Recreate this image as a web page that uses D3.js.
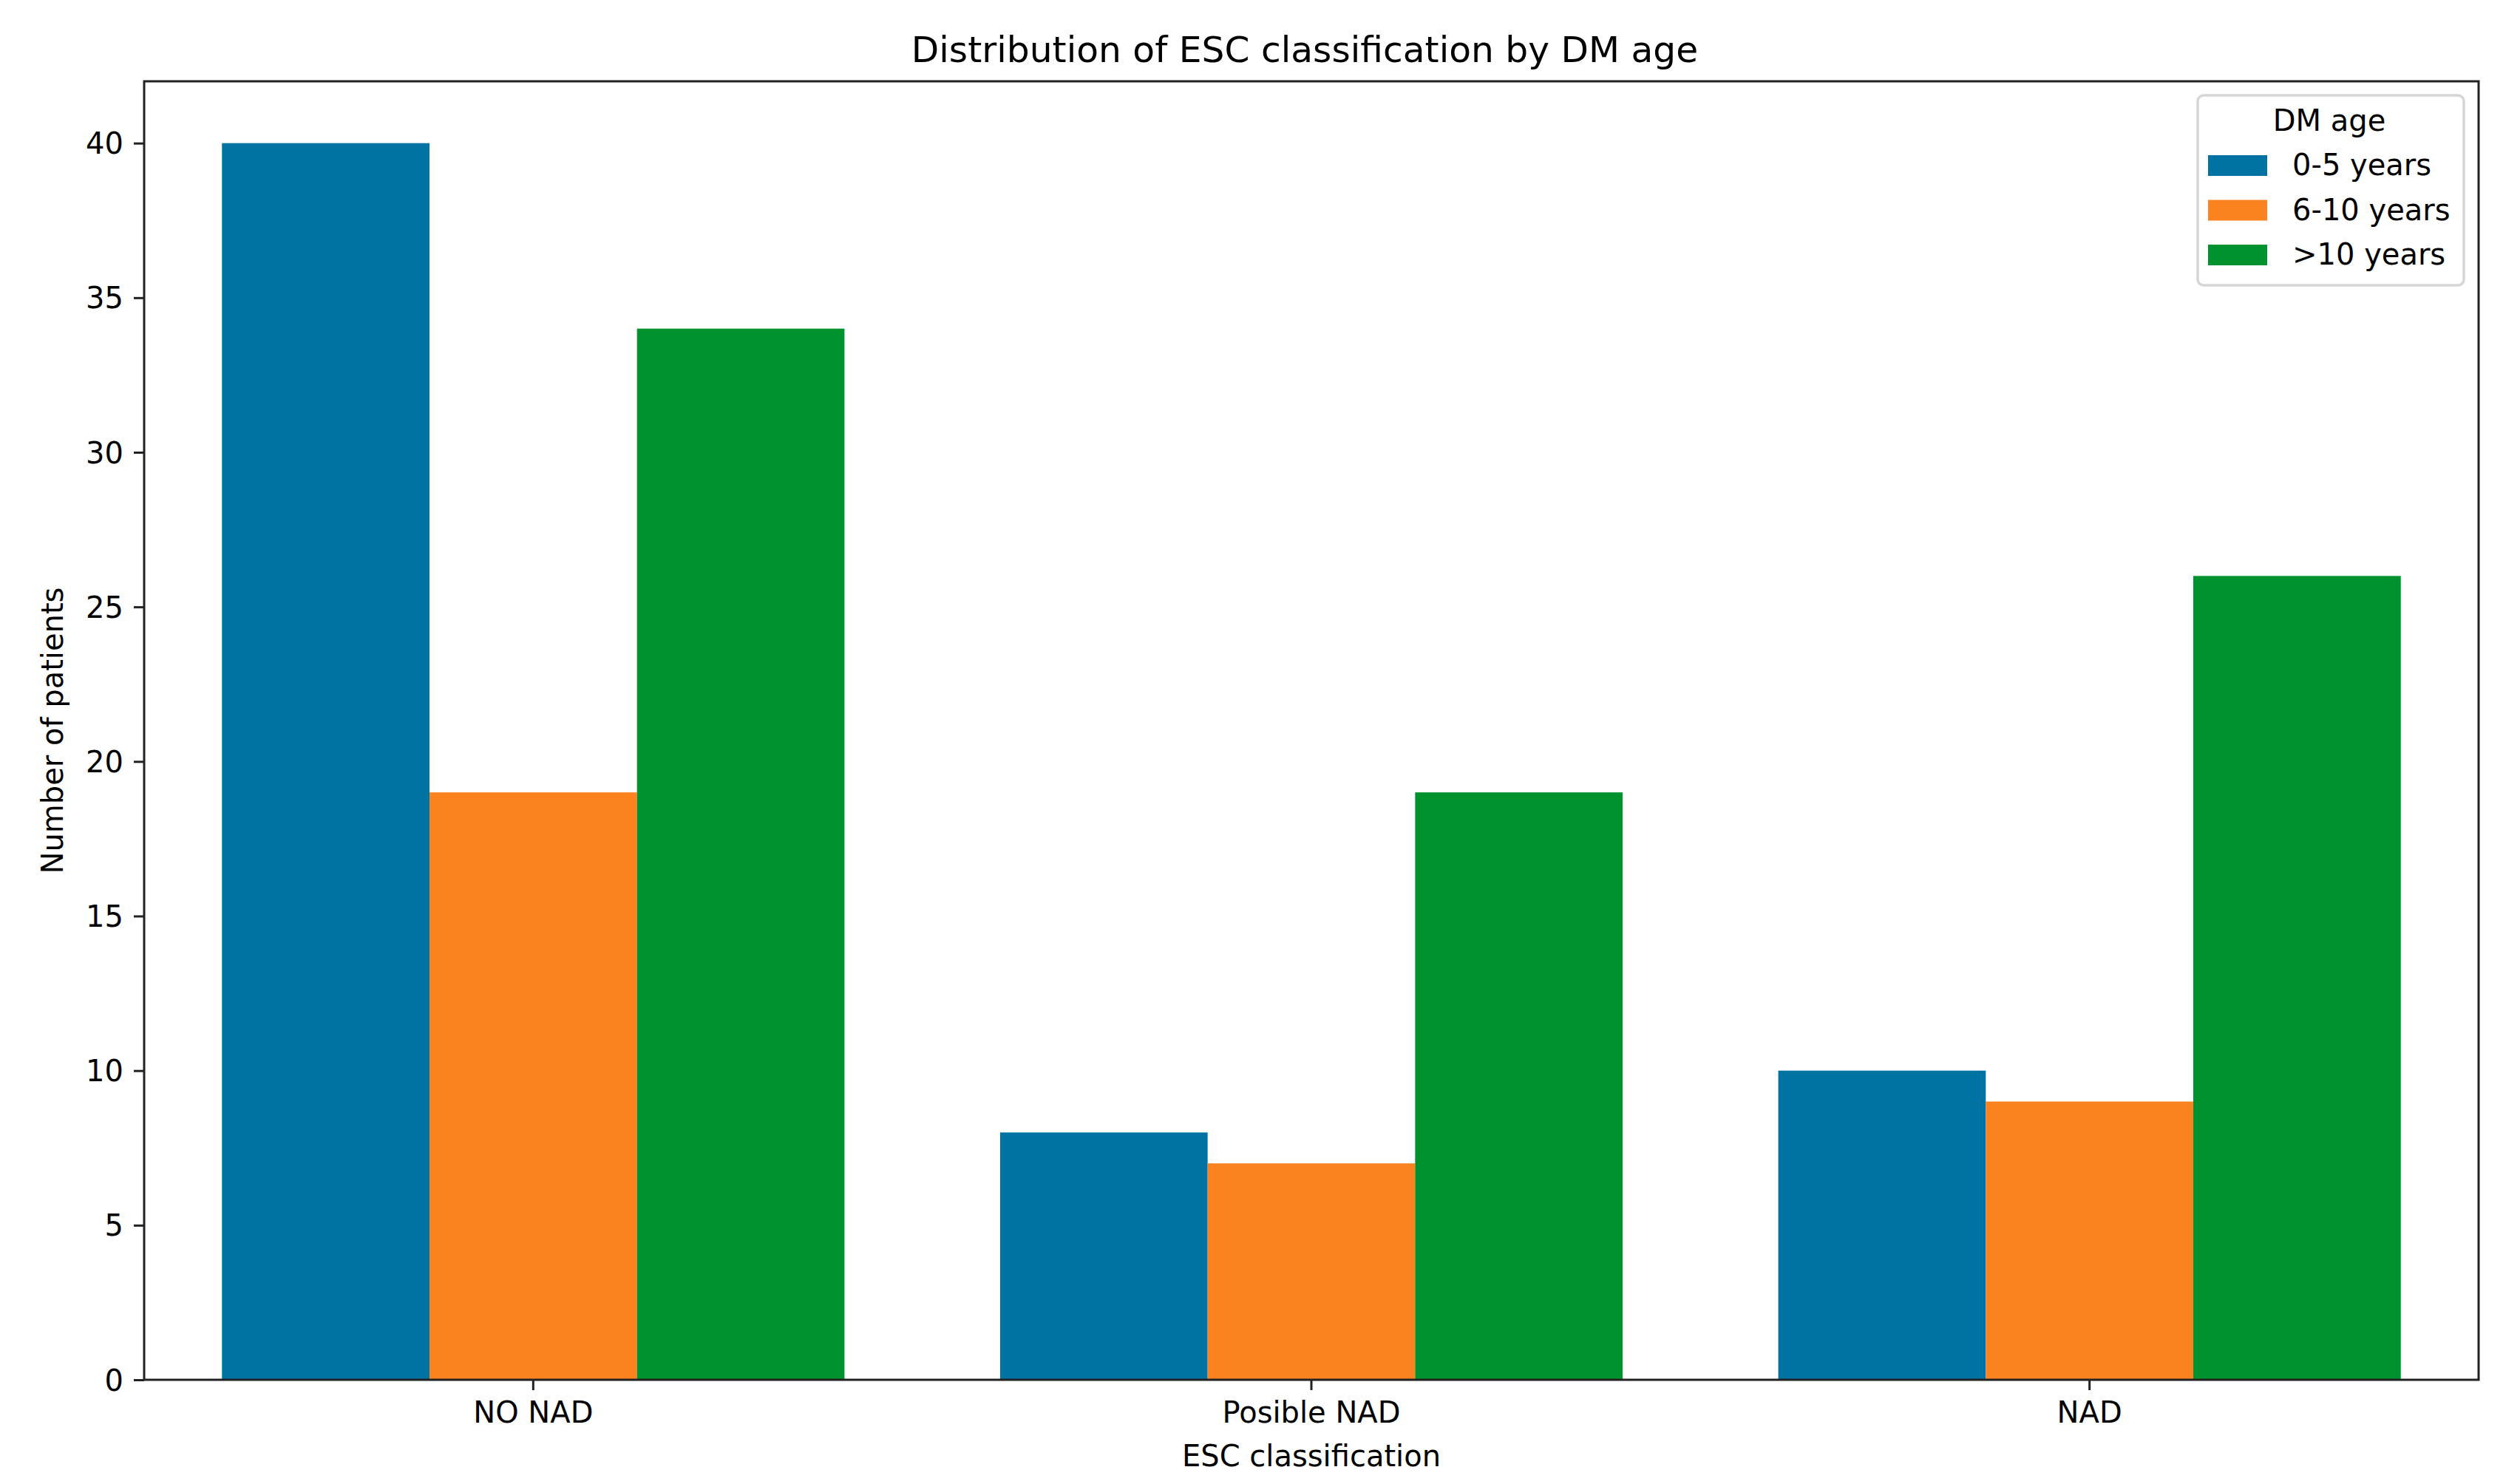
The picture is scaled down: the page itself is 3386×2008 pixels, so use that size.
<!DOCTYPE html>
<html>
<head>
<meta charset="utf-8">
<script src="https://cdn.jsdelivr.net/npm/d3@7"></script>
<style>
  body { margin: 0; background: #fff; }
  text { font-family: "DejaVu Sans", sans-serif; fill: #000; }
</style>
</head>
<body>
<div id="chart"></div>
<script>
// Data
const categories = ["NO NAD", "Posible NAD", "NAD"];
const series = ["0-5 years", "6-10 years", ">10 years"];
const values0to5 = [40, 8, 10];
const values6to10 = [19, 7, 9];
const valuesOver10 = [34, 19, 26];
const seriesColors = ["#0073a3", "#fa8320", "#00922f"];
const yTicks = [0, 5, 10, 15, 20, 25, 30, 35, 40];

const title = "Distribution of ESC classification by DM age";
const xLabel = "ESC classification";
const yLabel = "Number of patients";
const legendTitle = "DM age";

const seriesValues = [values0to5, values6to10, valuesOver10];

// Canvas and plot area
const width = 3386, height = 2008;
const plot = { left: 195, right: 3353, top: 110, bottom: 1867 };
const fontSize = 40;

const svg = d3.select("#chart")
  .append("svg")
  .attr("width", width)
  .attr("height", height)
  .style("display", "block");

svg.append("rect")
  .attr("width", width)
  .attr("height", height)
  .attr("fill", "#fff");

// Scales
const x0 = d3.scaleBand()
  .domain(categories)
  .range([plot.left, plot.right])
  .paddingInner(0.2)
  .paddingOuter(0.1);

const x1 = d3.scaleBand()
  .domain(series)
  .range([0, x0.bandwidth()])
  .padding(0);

const y = d3.scaleLinear()
  .domain([0, 42])
  .range([plot.bottom, plot.top]);

// Bars
const rows = categories.map((c, i) => ({
  category: c,
  values: series.map((s, j) => ({ series: s, value: seriesValues[j][i], color: seriesColors[j] })),
}));

const groups = svg.append("g")
  .selectAll("g")
  .data(rows)
  .enter()
  .append("g")
  .attr("transform", (d) => `translate(${x0(d.category)},0)`);

groups.selectAll("rect")
  .data((d) => d.values)
  .enter()
  .append("rect")
  .attr("x", (d) => x1(d.series))
  .attr("width", x1.bandwidth())
  .attr("y", (d) => y(d.value))
  .attr("height", (d) => y(0) - y(d.value))
  .attr("fill", (d) => d.color);

// Axes
const yAxis = svg.append("g")
  .attr("transform", `translate(${plot.left},0)`)
  .call(d3.axisLeft(y).tickValues(yTicks).tickSize(14).tickSizeOuter(0).tickPadding(14));

const xAxis = svg.append("g")
  .attr("transform", `translate(0,${plot.bottom})`)
  .call(d3.axisBottom(x0).tickSize(14).tickSizeOuter(0).tickPadding(14));

for (const ax of [xAxis, yAxis]) {
  ax.select(".domain").remove();
  ax.selectAll(".tick line").attr("stroke", "#222").attr("stroke-width", 3);
  ax.selectAll(".tick text")
    .attr("font-family", "DejaVu Sans, sans-serif")
    .attr("font-size", fontSize)
    .attr("fill", "#000");
}
yAxis.selectAll(".tick text").attr("dy", "0.35em");
xAxis.selectAll(".tick text").attr("dy", "0.76em");

// Frame
svg.append("rect")
  .attr("x", plot.left)
  .attr("y", plot.top)
  .attr("width", plot.right - plot.left)
  .attr("height", plot.bottom - plot.top)
  .attr("fill", "none")
  .attr("stroke", "#222")
  .attr("stroke-width", 3);

// Title and axis labels
svg.append("text")
  .attr("x", 1765)
  .attr("y", 84)
  .attr("text-anchor", "middle")
  .attr("font-size", 48.7)
  .text(title);

svg.append("text")
  .attr("x", (plot.left + plot.right) / 2)
  .attr("y", 1984)
  .attr("text-anchor", "middle")
  .attr("font-size", fontSize)
  .text(xLabel);

svg.append("text")
  .attr("transform", `translate(85,${(plot.top + plot.bottom) / 2}) rotate(-90)`)
  .attr("text-anchor", "middle")
  .attr("font-size", fontSize)
  .text(yLabel);

// Legend
const legend = svg.append("g").attr("transform", "translate(2973,129)");

legend.append("rect")
  .attr("width", 360)
  .attr("height", 257)
  .attr("rx", 8)
  .attr("fill", "#fff")
  .attr("fill-opacity", 0.8)
  .attr("stroke", "#cccccc")
  .attr("stroke-opacity", 0.8)
  .attr("stroke-width", 3.5);

legend.append("text")
  .attr("x", 178)
  .attr("y", 48)
  .attr("text-anchor", "middle")
  .attr("font-size", fontSize)
  .text(legendTitle);

const entry = legend.selectAll(".entry")
  .data(series)
  .enter()
  .append("g")
  .attr("class", "entry")
  .attr("transform", (d, i) => `translate(14,${81 + i * 60.5})`);

entry.append("rect")
  .attr("width", 80)
  .attr("height", 28)
  .attr("fill", (d, i) => seriesColors[i]);

entry.append("text")
  .attr("x", 114)
  .attr("y", 27)
  .attr("font-size", fontSize)
  .text((d) => d);
</script>
</body>
</html>
